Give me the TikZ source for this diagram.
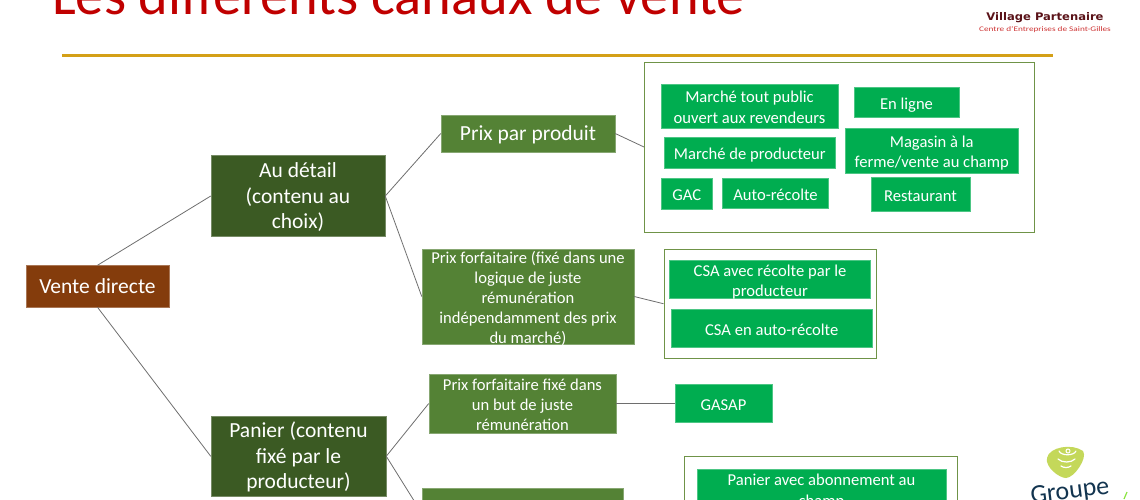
\documentclass[tikz,border=0pt]{standalone}
\usepackage{fontspec}
\setmainfont{Carlito}
\newfontfamily\logofont{DejaVu Sans}
\usetikzlibrary{positioning}
\definecolor{titlered}{HTML}{C00000}
\definecolor{rulegold}{HTML}{D4A017}
\definecolor{brownbox}{HTML}{843C0C}
\definecolor{darkbox}{HTML}{3B5A23}
\definecolor{midbox}{HTML}{548235}
\definecolor{leafbox}{HTML}{00AD50}
\definecolor{framegreen}{HTML}{6F9347}
\definecolor{linkgray}{HTML}{6E6E6E}
\definecolor{logoblob}{HTML}{C4D85A}
\definecolor{logoblue}{HTML}{12344F}
\definecolor{logomaroon}{HTML}{5A1218}
% box from its edges: style, name, left, right, top, bottom, text
\newcommand{\bx}[7]{\node[#1, minimum width=#4-#3, minimum height=#6-#5] (#2) at ({(#3+#4)/2},{(#5+#6)/2})
  {\raisebox{-7.3pt}[0pt][0pt]{\begin{tabular}{@{}c@{}}#7\end{tabular}}};}
\tikzset{
  basebox/.style={draw=#1!70!white, fill=#1, text=white, inner sep=0pt, line width=0.5pt, font=\fontsize{16.6}{20.2}\selectfont},
  rootbox/.style={basebox=brownbox, font=\fontsize{21.5}{25.5}\selectfont},
  levelbox/.style={basebox=darkbox, font=\fontsize{21.5}{25.5}\selectfont},
  pricebox/.style={basebox=midbox},
  leafbox/.style={basebox=leafbox},
  framebox/.style={draw=framegreen, fill=white, line width=1pt},
  link/.style={draw=linkgray, line width=0.8pt}
}
\begin{document}
\begin{tikzpicture}[x=1pt, y=-1pt]
  \useasboundingbox (0,0) rectangle (1140,499);
  \clip (0,0) rectangle (1140,499);

  \node[text=titlered, font=\fontsize{56.5}{60}\selectfont, anchor=base west, inner sep=0pt] (title) at (52,14) {Les différents canaux de vente};
  \draw[rulegold, line width=3pt] (62,55.5) -- (1053,55.5);

  \node[text=logomaroon, font=\logofont\fontsize{10.5}{12}\bfseries\selectfont, inner sep=0pt, xscale=1.1] (village) at (1045,18) {Village Partenaire};
  \node[text=titlered!80!white, font=\fontsize{7}{8}\selectfont, inner sep=0pt, xscale=1.32] (centre) at (1045,30) {Centre d'Entreprises de Saint-Gilles};

  % frames behind the leaves
  \bx{framebox}{frameA}{644.5}{1034}{62}{232}{}
  \bx{framebox}{frameB}{664}{876.5}{249.5}{358}{}
  \bx{framebox}{frameC}{684}{957}{456.5}{600}{}

  \bx{rootbox}{vente}{26}{169}{265.5}{307}{Vente directe}
  \bx{levelbox}{detail}{211}{385}{155.5}{236.5}{Au détail\\(contenu au\\choix)}
  \bx{levelbox}{panier}{211}{386}{416}{496.5}{Panier (contenu\\fixé par le\\producteur)}

  \bx{pricebox, font=\fontsize{21.5}{25}\selectfont}{prixA}{441}{615}{115}{152}{Prix par produit}
  \bx{pricebox}{prixB}{422}{634}{249}{344}{Prix forfaitaire (fixé dans une\\logique de juste\\rémunération\\indépendamment des prix\\du marché)}
  \bx{pricebox}{prixC}{429}{616}{374}{433}{Prix forfaitaire fixé dans\\un but de juste\\rémunération}
  \bx{pricebox}{prixD}{422}{623}{488}{538}{}

  \bx{leafbox}{marcheA}{661}{838}{84}{128}{Marché tout public\\ouvert aux revendeurs}
  \bx{leafbox}{enligne}{854}{959}{87.5}{117.5}{En ligne}
  \bx{leafbox}{marcheB}{664}{835.5}{137}{168}{Marché de producteur}
  \bx{leafbox}{magasin}{845.5}{1018}{128}{173}{Magasin à la\\ferme/vente au champ}
  \bx{leafbox}{gac}{661}{712.5}{178}{209}{GAC}
  \bx{leafbox}{autorec}{722.5}{828.5}{178}{208.5}{Auto-récolte}
  \bx{leafbox}{resto}{871}{970}{177}{211}{Restaurant}
  \bx{leafbox}{csaA}{669.5}{870.5}{260}{298.5}{CSA avec récolte par le\\producteur}
  \bx{leafbox}{csaB}{671.5}{872}{309}{347}{CSA en auto-récolte}
  \bx{leafbox}{gasap}{675}{772}{384.5}{422.5}{GASAP}
  \bx{leafbox}{panierA}{697}{946}{469}{509}{Panier avec abonnement au\\champ}

  \draw[link] (vente.north) -- (detail.west);
  \draw[link] (vente.south) -- (panier.west);
  \draw[link] (detail.east) -- (prixA.west);
  \draw[link] (detail.east) -- (prixB.west);
  \draw[link] (panier.east) -- (prixC.west);
  \draw[link] (panier.east) -- (prixD.west);
  \draw[link] (prixA.east) -- (frameA.west);
  \draw[link] (prixB.east) -- (frameB.west);
  \draw[link] (prixC.east) -- (gasap.west);

  % logo bottom right
  \fill[logoblob] (1047,458) .. controls (1049,447) and (1072,443) .. (1083,451) .. controls (1088,458) and (1074,478) .. (1066,478) .. controls (1059,478) and (1045,467) .. (1047,458) -- cycle;
  \draw[white, line width=1.2pt, line cap=round] (1059,451) .. controls (1061,456) and (1074,456) .. (1076,451);
  \draw[white, line width=1.2pt, line cap=round] (1058,459) .. controls (1062,463) and (1071,463) .. (1075,459);
  \draw[white, line width=1.2pt, line cap=round] (1061,466) .. controls (1064,468) and (1068,468) .. (1071,466);
  \draw[white, line width=1pt] (1068,451) circle (2pt);
  \node[text=logoblue, font=\fontsize{26}{28}\selectfont, inner sep=0pt, rotate=7] (groupe) at (1070,492) {Groupe};
  \draw[logoblob!70!green, line width=1.2pt] (1124,499) -- (1127,492);
\end{tikzpicture}
\end{document}
